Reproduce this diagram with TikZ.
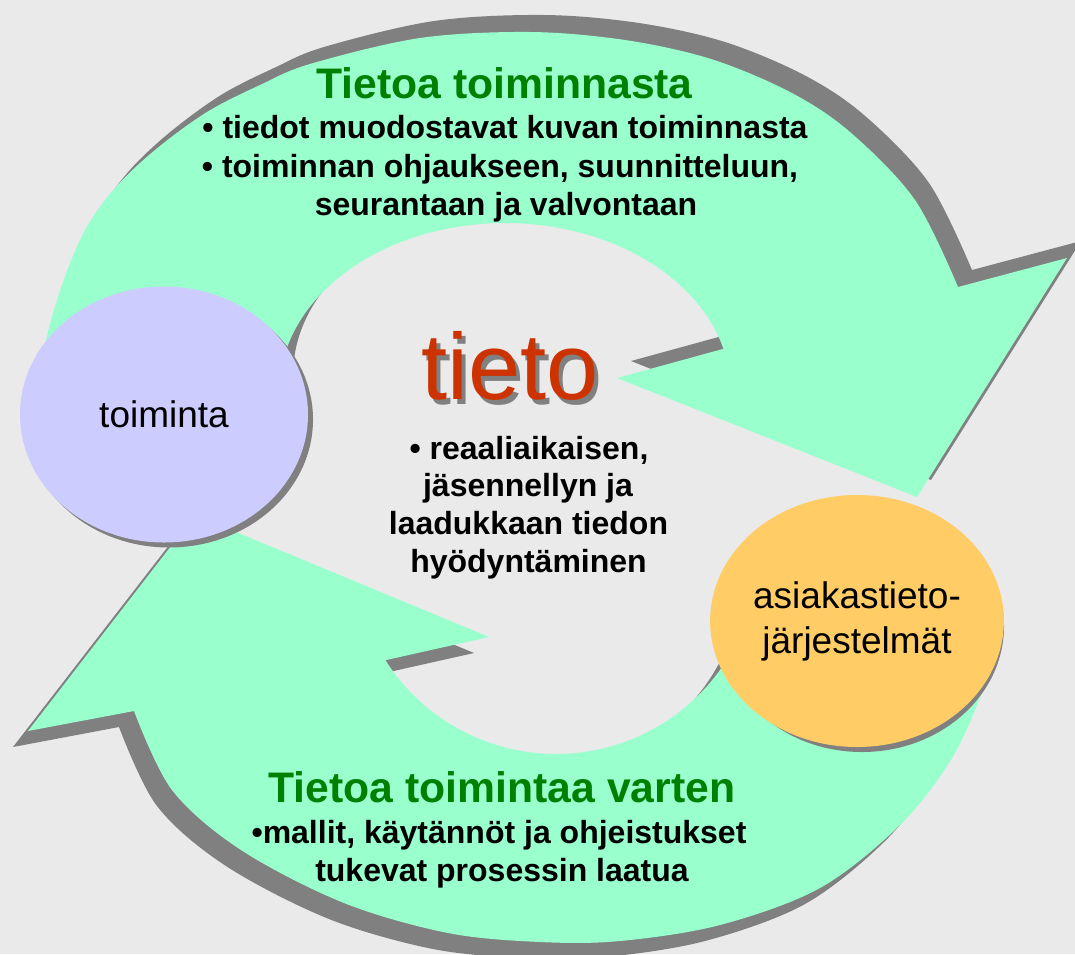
\documentclass[tikz,border=0pt]{standalone}
\usepackage{fontspec}
\setmainfont{Liberation Sans}
\usetikzlibrary{shapes.geometric}
\definecolor{bg}{HTML}{EAEAEA}
\definecolor{arrowgreen}{HTML}{99FFCC}
\definecolor{shadowgray}{HTML}{808080}
\definecolor{lavender}{HTML}{CCCCFF}
\definecolor{apricot}{HTML}{FFCC66}
\definecolor{titlegreen}{HTML}{008000}
\definecolor{tietored}{HTML}{CC3300}
\begin{document}
\begin{tikzpicture}[x=1pt,y=-1pt,
  ttl/.style={inner sep=0pt, anchor=base, text=titlegreen, font=\fontsize{42.7}{50}\selectfont\bfseries},
  bodytxt/.style={inner sep=0pt, anchor=base, font=\fontsize{32}{38}\selectfont\bfseries},
  bubble/.style={ellipse, inner sep=0pt, font=\fontsize{37}{45}\selectfont, align=center},
  bigword/.style={inner sep=0pt, anchor=base, font=\fontsize{94}{100}\selectfont},
]
\fill[bg] (0,0) rectangle (1075,954);
\useasboundingbox (0,0) rectangle (1075,954);

% upper arrow (shadow, then fill)
\foreach \dx/\dy/\col in {14/-17/shadowgray, 0/0/arrowgreen}{
  \fill[fill=\col, shift={(\dx,\dy)}]
    plot[smooth, tension=0.55] coordinates {(33,420) (45,345) (62,285) (85,230) (115,188) (155,150) (207,112) (260,85) (310,64) (420,38) (530,32) (625,40) (711,59) (790,92) (850,132) (915,200) (958,287)}
    -- (1067,258) -- (917,497) -- (617,378) -- (723.5,348.8)
    -- plot[domain=0:1, samples=70, variable=\t] ({505+226*cos(-14.8-167.2*\t)}, {392+169*sin(-14.8-167.2*\t)})
    -- cycle;
}

% lower arrow (shadow, then fill)
\foreach \dx/\dy/\col in {-15/16/shadowgray, 0/0/arrowgreen}{
  \fill[fill=\col, shift={(\dx,\dy)}]
    (134,711) -- (28,731) -- (195,515) -- (489,637) -- (385.4,660.2)
    -- plot[domain=0:1, samples=70, variable=\t] ({556+202*cos(147.6-127.6*\t)}, {552+202*sin(147.6-127.6*\t)})
    -- plot[smooth, tension=0.55] coordinates {(992,652) (984,687) (952,758) (900,825) (820,888) (720,925) (620,941) (540,942) (448,933) (344,903) (241,850) (172,790) (134,711)}
    -- cycle;
}

% bubbles
\node[bubble, fill=shadowgray, minimum width=288pt, minimum height=256pt] (toimintashadow) at (169,419.5) {};
\node[bubble, fill=lavender, minimum width=288pt, minimum height=256pt] (toiminta) at (164,414.5) {toiminta};
\node[bubble, fill=shadowgray, minimum width=284pt, minimum height=252pt] (asiakasshadow) at (862,626) {};
\node[bubble, fill=apricot, minimum width=284pt, minimum height=252pt] (asiakas) at (857,621) {asiakastieto-\\järjestelmät};

% upper texts
\node[ttl] (ttlup) at (504.5,98) {Tietoa toiminnasta};
\node[bodytxt] (up1) at (505,138) {• tiedot muodostavat kuvan toiminnasta};
\node[bodytxt] (up2) at (500,177) {• toiminnan ohjaukseen, suunnitteluun,};
\node[bodytxt] (up3) at (506,215) {seurantaan ja valvontaan};

% centre
\node[bigword, text=shadowgray] (tietoshadow) at (514,404) {tieto};
\node[bigword, text=tietored] (tieto) at (510,399) {tieto};
\node[bodytxt] (c1) at (529,459) {• reaaliaikaisen,};
\node[bodytxt] (c2) at (528,496) {jäsennellyn ja};
\node[bodytxt] (c3) at (528.5,534) {laadukkaan tiedon};
\node[bodytxt] (c4) at (528.5,572) {hyödyntäminen};

% lower texts
\node[ttl] (ttllow) at (502,802) {Tietoa toimintaa varten};
\node[bodytxt] (low1) at (499,843) {•mallit, käytännöt ja ohjeistukset};
\node[bodytxt] (low2) at (502,881) {tukevat prosessin laatua};
\end{tikzpicture}
\end{document}
